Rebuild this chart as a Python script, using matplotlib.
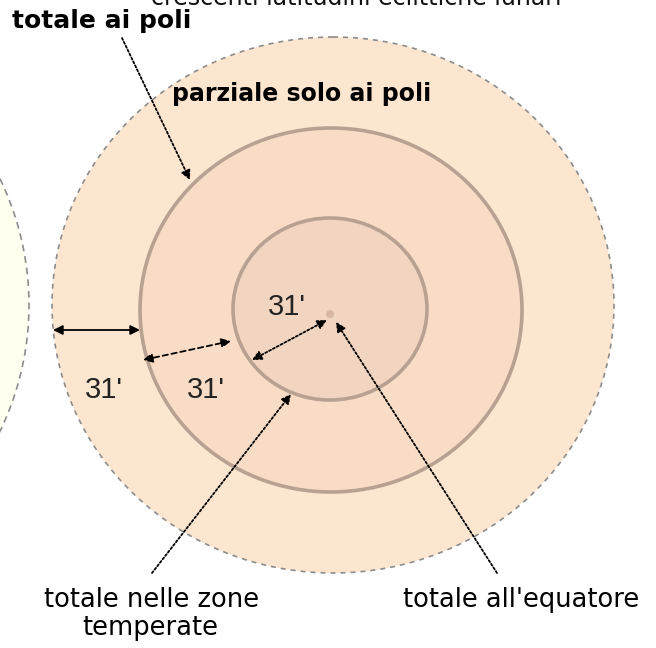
import matplotlib
matplotlib.use("Agg")
import matplotlib.pyplot as plt
from matplotlib.patches import Ellipse

# ---- diagram data (pixel space of the 656x648 picture) ----
ring_names = ["penombra", "zona temperata", "equatore"]
ring_centers = [(333, 305), (331, 310), (330, 309)]
ring_rx = [281, 191, 97]
ring_ry = [268, 182, 91]
ring_fill = ["#fde6d0", "#f8dcc6", "#f1d5c0"]

sun_center = (-283, 305)
sun_rx, sun_ry = 312, 300

labels = ["totale ai poli", "parziale solo ai poli", "totale nelle zone\ntemperate",
          "totale all'equatore"]
angle_label = "31'"
top_caption = "crescenti latitudini eclittiche lunari"

fig = plt.figure(figsize=(6.56, 6.48), dpi=100)
ax = fig.add_axes([0, 0, 1, 1])
ax.set_xlim(0, 656)
ax.set_ylim(648, 0)
ax.axis("off")

# left (sun) disc
ax.add_patch(Ellipse(sun_center, 2 * sun_rx, 2 * sun_ry, facecolor="#fffff0",
                     edgecolor="#8c8c8c", lw=1.2, ls=(0, (4, 3)), zorder=1))

# outer disc (dashed edge)
ax.add_patch(Ellipse(ring_centers[0], 2 * ring_rx[0], 2 * ring_ry[0], facecolor=ring_fill[0],
                     edgecolor="#8c8c8c", lw=1.2, ls=(0, (3, 3)), zorder=2))
# inner rings
for c, rx, ry, fc in zip(ring_centers[1:], ring_rx[1:], ring_ry[1:], ring_fill[1:]):
    ax.add_patch(Ellipse(c, 2 * rx, 2 * ry, facecolor=fc, edgecolor="#b8a190",
                         lw=2.6, zorder=3))

# centre dot
ax.add_patch(Ellipse((330, 314), 8, 8, facecolor="#d8b8a4", edgecolor="none", zorder=4))

def arrow(p_from, p_to, style, ls):
    ax.annotate("", xy=p_to, xytext=p_from, zorder=6,
                arrowprops=dict(arrowstyle=style, color="black", lw=1.3, ls=ls,
                                shrinkA=0, shrinkB=0, mutation_scale=14))

arrow((122, 38), (190, 180), "-|>", (0, (1.2, 1.2)))
arrow((53, 330), (140, 330), "<|-|>", "-")
arrow((143, 360), (231, 341), "<|-|>", (0, (3, 2)))
arrow((252, 360), (327, 320), "<|-|>", (0, (1.2, 1.2)))
arrow((497, 573), (336, 322), "-|>", (0, (1.2, 1.2)))
arrow((152, 573), (291, 394), "-|>", (0, (1.2, 1.2)))

lab_font = "DejaVu Sans"
ax.text(356, 5, top_caption, fontsize=17, family=lab_font, ha="center", va="baseline",
        color="#111111", zorder=7)
ax.text(12, 28, labels[0], fontsize=18, family=lab_font, fontweight="bold",
        ha="left", va="baseline", zorder=7)
ax.text(172, 101, labels[1], fontsize=17, family=lab_font, fontweight="bold",
        ha="left", va="baseline", zorder=7)
ax.text(152, 607, labels[2].split("\n")[0], fontsize=18.5, family=lab_font,
        ha="center", va="baseline", zorder=7)
ax.text(150, 635, labels[2].split("\n")[1], fontsize=18.5, family=lab_font,
        ha="center", va="baseline", zorder=7)
ax.text(403, 607, labels[3], fontsize=18.5, family=lab_font,
        ha="left", va="baseline", zorder=7)

for x, y in [(268, 315), (85, 398), (187, 398)]:
    ax.text(x, y, angle_label, fontsize=21, family="Liberation Sans",
            ha="left", va="baseline", color="#222222", zorder=7)

fig.savefig("out.png", dpi=100)
